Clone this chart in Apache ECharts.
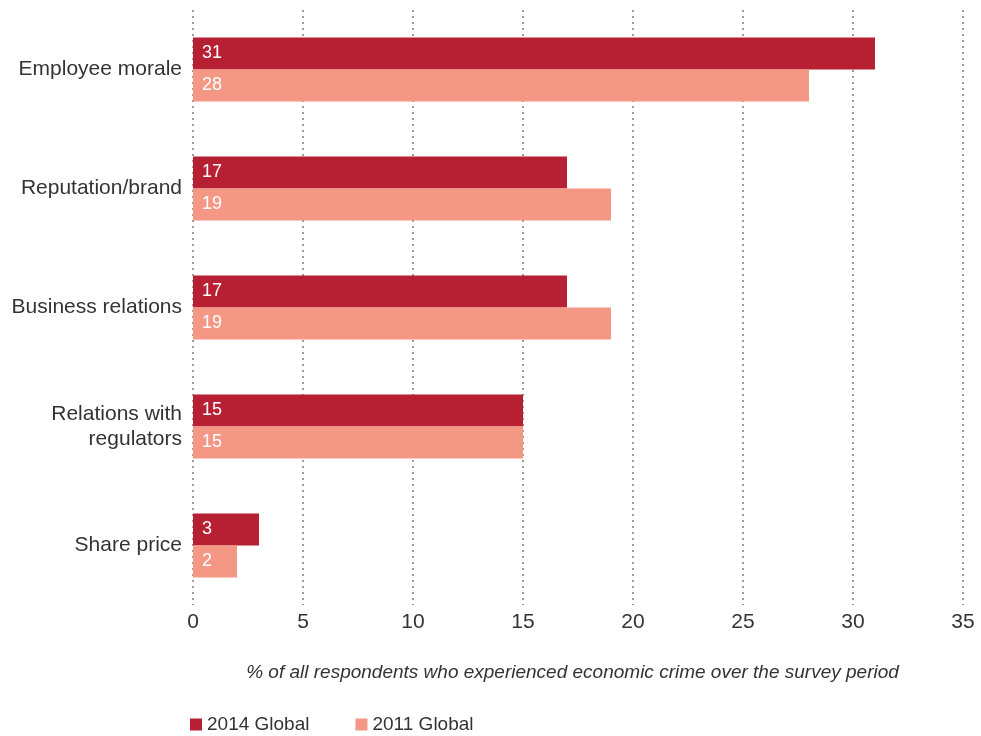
<!DOCTYPE html>
<html>
<head>
<meta charset="utf-8">
<script src="https://cdn.jsdelivr.net/npm/echarts@6/dist/echarts.min.js"></script>
<style>html,body{margin:0;padding:0;background:#fff}#c{width:981px;height:736px}</style>
</head>
<body>
<div id="c"></div>
<script>
const categories = ["Employee morale", "Reputation/brand", "Business relations", "Relations with\nregulators", "Share price"];
const values2014 = [31, 17, 17, 15, 3];
const values2011 = [28, 19, 19, 15, 2];
const xTicks = { min: 0, max: 35, interval: 5 };
const seriesNames = ["2014 Global", "2011 Global"];
const axisTitle = "% of all respondents who experienced economic crime over the survey period";

const FONT = "'Liberation Sans', Arial, Helvetica, sans-serif";
const chart = echarts.init(document.getElementById('c'), null, { renderer: 'canvas' });
const labelCfg = { show: true, position: 'insideLeft', distance: 9, color: '#fff', fontSize: 18, fontFamily: FONT };
chart.setOption({
  animation: false,
  color: ['#B71F33', '#F59785'],
  textStyle: { fontFamily: FONT },
  grid: { left: 193, right: 18, top: 10, height: 595, containLabel: false },
  legend: {
    data: seriesNames, left: 185, top: 710, icon: 'rect', itemWidth: 12, itemHeight: 12, itemGap: 46,
    textStyle: { fontSize: 19, color: '#333', fontFamily: FONT }
  },
  xAxis: {
    type: 'value', min: xTicks.min, max: xTicks.max, interval: xTicks.interval,
    axisLine: { show: false }, axisTick: { show: false },
    axisLabel: { fontSize: 21, color: '#333', margin: 7, fontFamily: FONT },
    splitLine: { show: true, lineStyle: { color: '#A39A93', type: [2, 4], width: 2 } },
    name: axisTitle, nameLocation: 'middle', nameGap: 58,
    nameTextStyle: { fontSize: 19, fontStyle: 'italic', color: '#333', fontFamily: FONT, padding: [0, 11, 0, 0] }
  },
  yAxis: {
    type: 'category', data: categories, inverse: true,
    axisLine: { show: false }, axisTick: { show: false },
    axisLabel: { fontSize: 21, color: '#333', margin: 11, align: 'right', lineHeight: 25, fontFamily: FONT }
  },
  series: [
    { name: seriesNames[0], type: 'bar', data: values2014, barWidth: 32, barGap: '0%', label: labelCfg },
    { name: seriesNames[1], type: 'bar', data: values2011, barWidth: 32, barGap: '0%', label: labelCfg }
  ]
});
</script>
</body>
</html>
